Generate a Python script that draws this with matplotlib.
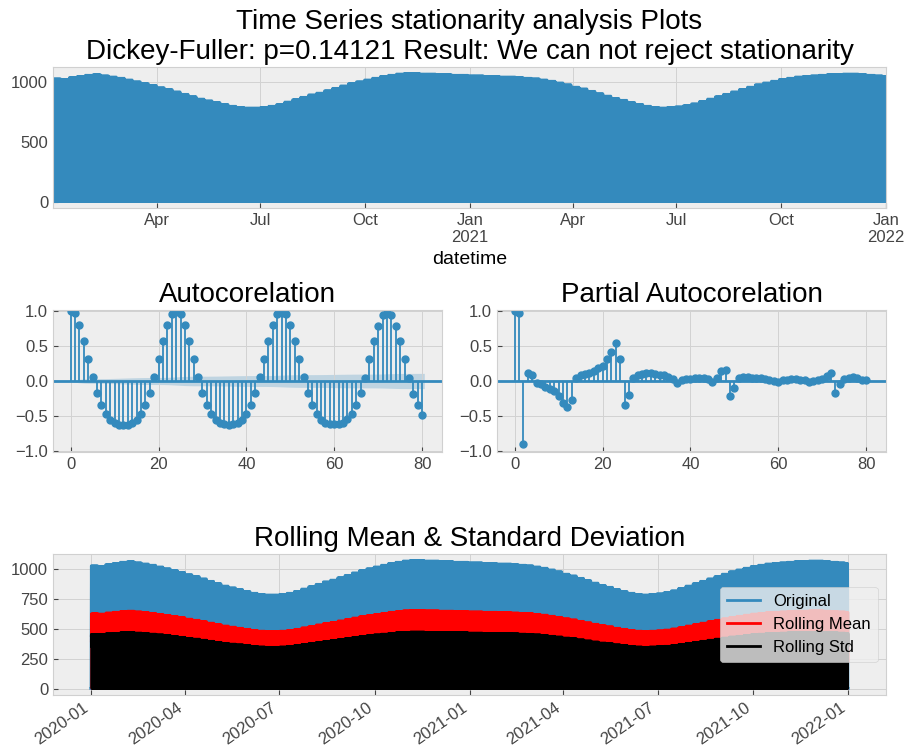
import numpy as np
import pandas as pd
import matplotlib
matplotlib.use("Agg")
import matplotlib.pyplot as plt
import matplotlib.dates as mdates

# ---------------- data ----------------
# daily peak value for each week, 2020-01-01 .. 2022-01-01
weekly_peak = [
    1030, 1025, 1040, 1050,              # Jan 2020
    1060, 1065, 1055, 1045,              # Feb
    1035, 1020, 1005, 990, 975,          # Mar
    955, 940, 920, 900,                  # Apr
    880, 860, 845, 830, 815,             # May
    800, 790, 785, 785,                  # Jun
    790, 800, 815, 835,                  # Jul
    855, 875, 895, 910, 930,             # Aug
    950, 970, 990, 1005,                 # Sep
    1020, 1035, 1050, 1060, 1070,        # Oct
    1075, 1075, 1070, 1070,              # Nov
    1065, 1065, 1060, 1060,              # Dec
    1055, 1055, 1050, 1050, 1045,        # Jan 2021
    1045, 1040, 1035, 1030,              # Feb
    1020, 1010, 995, 980,                # Mar
    960, 945, 925, 905,                  # Apr
    885, 865, 850, 830, 815,             # May
    800, 790, 785, 790,                  # Jun
    795, 805, 820, 840,                  # Jul
    860, 880, 900, 920, 940,             # Aug
    960, 980, 995, 1010,                 # Sep
    1025, 1035, 1045, 1050, 1055,        # Oct
    1060, 1065, 1065, 1070,              # Nov
    1070, 1065, 1060, 1055, 1050,        # Dec
]
# share of the daily peak for each hour of the day
daily_profile = [0, 0, 0, 0, 0, 0,
                 0.10, 0.30, 0.55, 0.78, 0.93, 1.00, 1.00, 0.93, 0.78, 0.55, 0.30, 0.10,
                 0, 0, 0, 0, 0, 0]

acf_values = [
    1.00, 0.97, 0.81, 0.58, 0.32, 0.06, -0.17, -0.35, -0.48, -0.56, -0.61, -0.63,
    -0.63, -0.63, -0.61, -0.56, -0.48, -0.35, -0.17, 0.06, 0.32, 0.58, 0.81, 0.96,
    0.99, 0.96, 0.80, 0.58, 0.32, 0.06, -0.17, -0.35, -0.47, -0.56, -0.61, -0.62,
    -0.63, -0.62, -0.61, -0.56, -0.47, -0.35, -0.17, 0.06, 0.32, 0.57, 0.80, 0.96,
    0.98, 0.96, 0.80, 0.57, 0.31, 0.06, -0.17, -0.35, -0.47, -0.56, -0.60, -0.62,
    -0.62, -0.62, -0.60, -0.55, -0.47, -0.35, -0.17, 0.05, 0.31, 0.57, 0.79, 0.95,
    0.98, 0.95, 0.79, 0.57, 0.31, 0.05, -0.18, -0.35, -0.49,
]
pacf_values = [
    1.00, 0.97, -0.90, 0.12, 0.09, -0.03, -0.05, -0.08, -0.11, -0.15, -0.22, -0.32,
    -0.38, -0.28, 0.05, 0.08, 0.10, 0.12, 0.15, 0.18, 0.22, 0.32, 0.42, 0.55,
    0.32, -0.35, -0.20, 0.05, 0.08, 0.10, 0.12, 0.11, 0.10, 0.09, 0.08, 0.06,
    0.03, -0.03, 0.01, 0.03, 0.03, 0.04, 0.04, 0.05, 0.03, -0.01, 0.05, 0.14,
    0.16, -0.22, -0.10, 0.05, 0.06, 0.06, 0.05, 0.05, 0.04, 0.03, 0.02, 0.00,
    -0.01, 0.01, 0.02, 0.03, 0.03, 0.02, 0.01, -0.01, 0.00, 0.02, 0.03, 0.07,
    0.12, -0.17, -0.05, 0.03, 0.05, 0.06, 0.04, 0.02, 0.02,
]
top_tick_labels = ["Apr", "Jul", "Oct", "Jan\n2021", "Apr", "Jul", "Oct", "Jan\n2022"]
rolling_window = 12
main_title = ("Time Series stationarity analysis Plots\n"
              "Dickey-Fuller: p=0.14121 Result: We can not reject stationarity")

# ---------------- build series ----------------
dates = pd.date_range("2020-01-01 01:00", "2022-01-01 00:00", freq="h")
week_idx = ((dates - dates[0]).days // 7).to_numpy()
values = np.array(weekly_peak, float)[week_idx] * np.array(daily_profile)[dates.hour]
series = pd.Series(values, index=dates)
rolmean = series.rolling(rolling_window).mean()
rolstd = series.rolling(rolling_window).std()
n_obs = len(series)

# ---------------- style ----------------
plt.style.use("bmh")
plt.rcParams["font.family"] = ["Liberation Sans", "DejaVu Sans"]
plt.rcParams["font.size"] = 12
plt.rcParams["grid.linestyle"] = "-"
plt.rcParams["grid.color"] = "#d2d2d2"
plt.rcParams["grid.linewidth"] = 0.7
plt.rcParams["xtick.color"] = "#444444"
plt.rcParams["ytick.color"] = "#444444"
plt.rcParams["axes.edgecolor"] = "#d0d0d0"

fig = plt.figure(figsize=(9.07, 7.5), dpi=100)
W, H = 907.0, 750.0


def axes_px(l, t, r, b):
    return fig.add_axes([l / W, 1 - b / H, (r - l) / W, (b - t) / H])


ts_ax = axes_px(53, 67, 886, 208)
acf_ax = axes_px(53, 310, 442, 452)
pacf_ax = axes_px(497, 310, 886, 452)
roll_ax = axes_px(53, 554, 886, 695)

# top time series
ts_ax.plot(series.index, series.values, color="C0", lw=2)
ts_ax.set_xlim(dates[0], dates[-1])
qticks = pd.date_range("2020-04-01", "2022-01-01", freq="QS")
ts_ax.set_xticks(qticks)
ts_ax.set_xticklabels(top_tick_labels)
ts_ax.set_yticks([0, 500, 1000])
ts_ax.set_xlabel("datetime", fontsize=14)
ts_ax.set_title(main_title, fontsize=20)


def corr_plot(ax, vals, bartlett, title):
    vals = np.asarray(vals, float)
    lags = np.arange(len(vals))
    ax.vlines(lags, [0], vals, colors="C0", lw=1.3)
    ax.axhline(0, color="C0", lw=2)
    ax.plot(lags, vals, marker="o", markersize=5, linestyle="None", color="C0")
    var = np.ones(len(vals)) / n_obs
    var[0] = 0
    if bartlett:
        var[1] = 1.0 / n_obs
        var[2:] *= 1 + 2 * np.cumsum(vals[1:-1] ** 2)
    half = 1.96 * np.sqrt(var)
    cl = lags[1:].astype(float)
    cl[0] -= 0.5
    cl[-1] += 0.5
    ax.fill_between(cl, -half[1:], half[1:], color="C0", alpha=0.25, lw=0)
    ax.margins(0.05)
    ax.set_ylim(-1.02, 1.02)
    ax.set_yticks([-1.0, -0.5, 0.0, 0.5, 1.0])
    ax.set_xticks([0, 20, 40, 60, 80])
    ax.set_title(title, fontsize=20)


corr_plot(acf_ax, acf_values, True, "Autocorelation")
corr_plot(pacf_ax, pacf_values, False, "Partial Autocorelation")

# rolling stats
roll_ax.plot(series.index, series.values, color="C0", label="Original")
roll_ax.plot(rolmean.index, rolmean.values, color="red", label="Rolling Mean")
roll_ax.plot(rolstd.index, rolstd.values, color="black", label="Rolling Std")
roll_ax.set_xticks(pd.date_range("2020-01-01", "2022-01-01", freq="QS"))
roll_ax.xaxis.set_major_formatter(mdates.DateFormatter("%Y-%m"))
for lab in roll_ax.get_xticklabels():
    lab.set_rotation(35)
    lab.set_ha("right")
roll_ax.set_yticks([0, 250, 500, 750, 1000])
roll_ax.legend(loc="center right")
roll_ax.set_title("Rolling Mean & Standard Deviation", fontsize=20)

fig.savefig("out.png", dpi=100)
